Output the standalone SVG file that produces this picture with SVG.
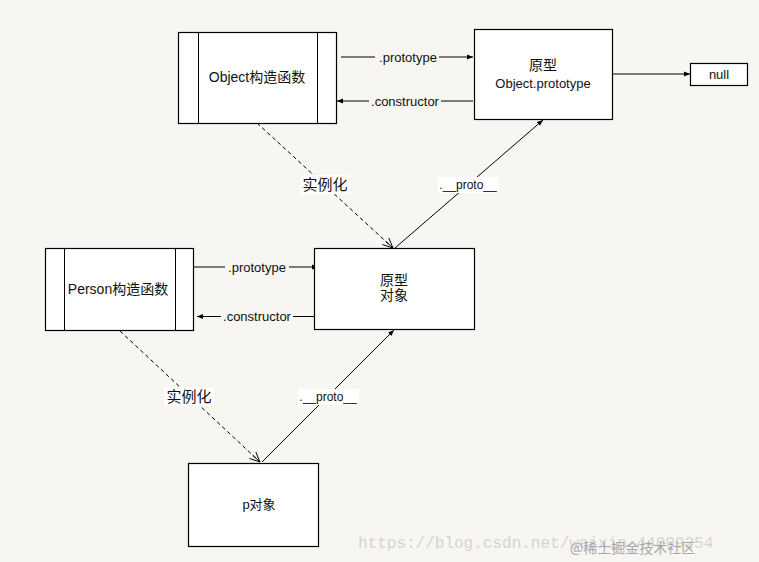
<svg xmlns="http://www.w3.org/2000/svg" width="759" height="562" viewBox="0 0 759 562">
<style>
.box{fill:#fff;stroke:#000;stroke-width:1.2}
.ln{fill:none;stroke:#000;stroke-width:1}
.dash{fill:none;stroke:#000;stroke-width:1;stroke-dasharray:4 3}
.t{font-family:"Liberation Sans","Noto Sans CJK SC",sans-serif;fill:#111;text-anchor:middle;dominant-baseline:central}
.s{font-size:12px}
.p{font-size:13px}
.m{font-size:14px}
.c{font-size:14px}
.k{font-size:15px}
.lb{fill:#fff}
.bg{fill:#f7f6f2}
</style>
<defs>
<marker id="fa" viewBox="0 0 10 10" refX="10" refY="5" markerWidth="6" markerHeight="6" orient="auto" markerUnits="userSpaceOnUse">
<path d="M0,1 L10,5 L0,9 Z" fill="#000"/>
</marker>
<marker id="oa" viewBox="0 0 12 12" refX="11" refY="6" markerWidth="11" markerHeight="11" orient="auto" markerUnits="userSpaceOnUse">
<path d="M0,1 L11,6 L0,11 M0,6 L11,6" fill="none" stroke="#000" stroke-width="1"/>
</marker>
</defs>
<rect width="759" height="562" fill="#f7f6f2"/>

<g id="connectors">
<line class="ln" x1="341" y1="57" x2="473" y2="57" marker-end="url(#fa)"/>
<rect class="bg" x="375" y="50" width="64" height="14"/>
<text class="t p" x="408" y="57">.prototype</text>
<line class="ln" x1="473" y1="101" x2="337" y2="101" marker-end="url(#fa)"/>
<rect class="bg" x="369" y="94" width="72" height="14"/>
<text class="t p" x="405" y="101">.constructor</text>
<line class="ln" x1="612" y1="74" x2="690" y2="74" marker-end="url(#fa)"/>

<line class="ln" x1="193" y1="267" x2="318" y2="267" marker-end="url(#fa)"/>
<rect class="bg" x="225" y="260" width="64" height="14"/>
<text class="t p" x="257" y="267">.prototype</text>
<line class="ln" x1="318" y1="316.5" x2="197" y2="316.5" marker-end="url(#fa)"/>
<rect class="bg" x="221" y="309" width="72" height="14"/>
<text class="t p" x="257" y="316.5">.constructor</text>

<line class="dash" x1="257" y1="123" x2="393" y2="248" marker-end="url(#oa)"/>
<rect class="lb" x="300" y="175" width="50" height="19"/>
<text class="t k" x="325" y="184">实例化</text>
<line class="ln" x1="395" y1="248" x2="543" y2="120" marker-end="url(#fa)"/>
<rect class="lb" x="438" y="177" width="61" height="16"/>
<text class="t s" x="468" y="185">.__proto__</text>

<line class="dash" x1="120" y1="331" x2="260" y2="462" marker-end="url(#oa)"/>
<rect class="lb" x="164" y="387" width="50" height="19"/>
<text class="t k" x="189" y="396">实例化</text>
<line class="ln" x1="262" y1="462" x2="394" y2="330" marker-end="url(#fa)"/>
<rect class="lb" x="298" y="389" width="61" height="16"/>
<text class="t s" x="328" y="397">.__proto__</text>
</g>

<g id="object-constructor">
<rect class="box" x="178.5" y="32.5" width="158" height="91"/>
<line class="ln" x1="198.5" y1="32.5" x2="198.5" y2="123.5"/>
<line class="ln" x1="317.5" y1="32.5" x2="317.5" y2="123.5"/>
<text class="t m" x="257" y="77">Object构造函数</text>
</g>

<g id="object-prototype">
<rect class="box" x="474.5" y="29.5" width="138" height="90"/>
<text class="t c" x="543" y="65">原型</text>
<text class="t p" x="543" y="83">Object.prototype</text>
</g>

<g id="null">
<rect class="box" x="690.5" y="63.5" width="57" height="22"/>
<text class="t p" x="719" y="74.5">null</text>
</g>

<g id="person-constructor">
<rect class="box" x="45.5" y="248.5" width="148" height="82"/>
<line class="ln" x1="64.5" y1="248.5" x2="64.5" y2="330.5"/>
<line class="ln" x1="175.5" y1="248.5" x2="175.5" y2="330.5"/>
<text class="t m" x="118" y="289">Person构造函数</text>
</g>

<g id="prototype-object">
<rect class="box" x="314.5" y="248.5" width="160" height="81"/>
<text class="t c" x="394" y="280">原型</text>
<text class="t c" x="394" y="295">对象</text>
</g>

<g id="p-object">
<rect class="box" x="188.5" y="463.5" width="130" height="83"/>
<text class="t p" x="259" y="504">p对象</text>
</g>

<g id="watermark">
<text x="358" y="548" style="font-family:'Liberation Mono',monospace;font-size:16px;fill:#d4d4d4">https://blog.csdn.net/weixin_44099254</text>
<text x="570" y="553" style="font-family:'Noto Sans CJK SC',sans-serif;font-size:14px;fill:#a8a8a8">@稀土掘金技术社区</text>
</g>
</svg>
